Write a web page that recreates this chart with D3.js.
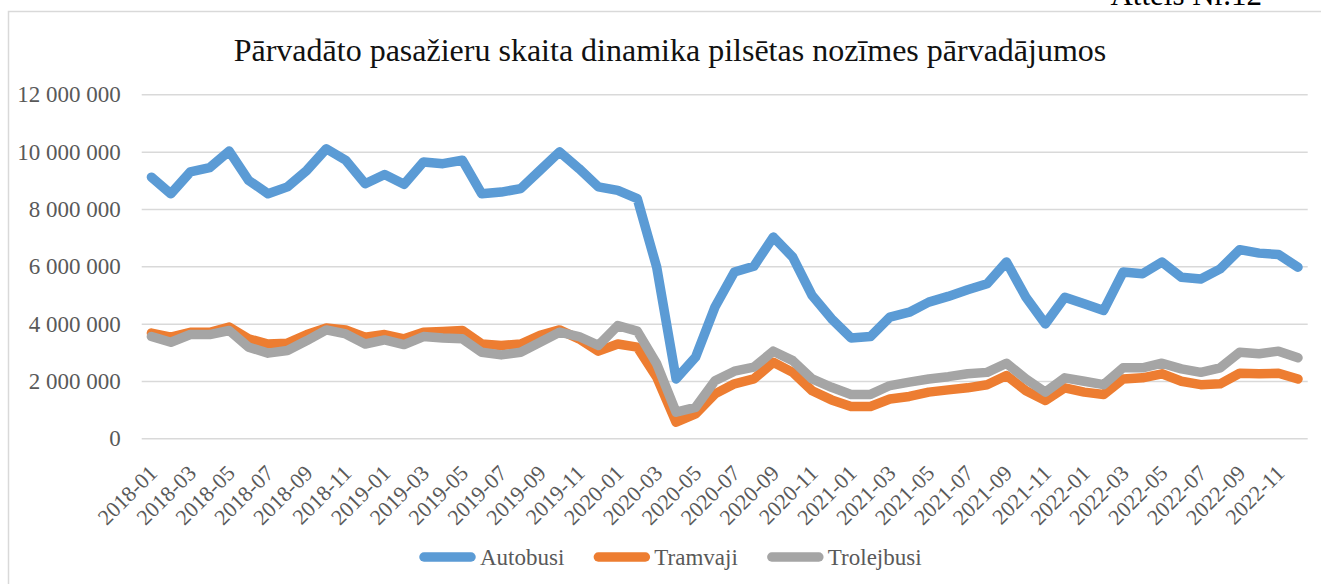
<!DOCTYPE html>
<html>
<head>
<meta charset="utf-8">
<script src="https://cdn.jsdelivr.net/npm/d3@7"></script>
<style>
  body { margin: 0; background: #fff; }
  svg { display: block; }
  svg text { font-family: "Liberation Serif", "Times New Roman", serif; }
</style>
</head>
<body>
<svg width="1321" height="584"></svg>
<script>
// Mēneši 2018-01 ... 2022-12
const months = [];
for (let yr = 2018; yr <= 2022; yr++) {
  for (let m = 1; m <= 12; m++) months.push(`${yr}-${String(m).padStart(2, "0")}`);
}

// Pasažieri (milj.), nolasīti no attēla
const autobusi = [9.11, 8.53, 9.29, 9.44, 10.02, 9.00, 8.53, 8.77, 9.35, 10.10,
  9.70, 8.88, 9.20, 8.86, 9.64, 9.58, 9.70, 8.53, 8.59, 8.71,
  9.35, 9.99, 9.41, 8.77, 8.65, 8.36, 5.97, 2.07, 2.83, 4.58,
  5.80, 6.00, 7.02, 6.32, 4.98, 4.17, 3.50, 3.55, 4.23, 4.40,
  4.75, 4.95, 5.18, 5.39, 6.15, 4.92, 3.99, 4.92, 4.69, 4.46,
  5.80, 5.74, 6.15, 5.62, 5.56, 5.91, 6.58, 6.46, 6.41, 5.97];
const tramvaji = [3.67, 3.53, 3.70, 3.70, 3.88, 3.47, 3.29, 3.32, 3.62, 3.85,
  3.78, 3.53, 3.62, 3.47, 3.70, 3.73, 3.76, 3.29, 3.24, 3.29,
  3.59, 3.78, 3.47, 3.04, 3.29, 3.18, 2.13, 0.56, 0.85, 1.55,
  1.90, 2.07, 2.65, 2.30, 1.66, 1.34, 1.11, 1.11, 1.37, 1.46,
  1.61, 1.69, 1.76, 1.87, 2.19, 1.66, 1.32, 1.76, 1.61, 1.53,
  2.07, 2.11, 2.25, 1.99, 1.87, 1.90, 2.27, 2.25, 2.27, 2.07];
const trolejbusi = [3.55, 3.35, 3.62, 3.62, 3.76, 3.18, 2.97, 3.06, 3.41, 3.78,
  3.64, 3.29, 3.43, 3.27, 3.55, 3.50, 3.47, 3.00, 2.91, 3.00,
  3.35, 3.70, 3.55, 3.24, 3.93, 3.74, 2.60, 0.91, 1.08, 2.01,
  2.34, 2.48, 3.04, 2.71, 2.07, 1.78, 1.53, 1.53, 1.84, 1.96,
  2.07, 2.15, 2.25, 2.30, 2.62, 2.07, 1.61, 2.11, 1.99, 1.87,
  2.46, 2.46, 2.62, 2.42, 2.30, 2.46, 3.00, 2.95, 3.04, 2.81];

const seriesNames = ["Autobusi", "Tramvaji", "Trolejbusi"];
const seriesColors = ["#5b9bd5", "#ed7d31", "#a5a5a5"];
const yTicks = [0, 2e6, 4e6, 6e6, 8e6, 10e6, 12e6];

const series = [autobusi, tramvaji, trolejbusi].map((vals, k) => ({
  name: seriesNames[k],
  color: seriesColors[k],
  values: vals.map((v, i) => ({ month: months[i], value: v * 1e6 }))
}));

const svg = d3.select("svg");
const plotLeft = 141.7, plotRight = 1307.7, plotTop = 94.3, plotBottom = 438.3;

const x = d3.scaleBand().domain(months).range([plotLeft, plotRight]);
const y = d3.scaleLinear().domain([0, 12e6]).range([plotBottom, plotTop]);
const cx = m => x(m) + x.bandwidth() / 2;
const fmt = v => d3.format(",")(v).replace(/,/g, " ");
const serif = '"Liberation Serif", "Times New Roman", serif';

// rāmis
svg.append("rect")
  .attr("x", 8.5).attr("y", 11.5).attr("width", 1400).attr("height", 700)
  .attr("fill", "none").attr("stroke", "#d9d9d9").attr("stroke-width", 1.5);

svg.append("text")
  .attr("x", 1262).attr("y", 5).attr("text-anchor", "end")
  .attr("font-size", 31).attr("fill", "#000")
  .text("Attēls Nr.12");

// virsraksts
svg.append("text")
  .attr("x", 670).attr("y", 61).attr("text-anchor", "middle")
  .attr("font-size", 32).attr("fill", "#111")
  .text("Pārvadāto pasažieru skaita dinamika pilsētas nozīmes pārvadājumos");

// režģis + Y ass
svg.append("g")
  .attr("transform", `translate(${plotLeft},0)`)
  .call(d3.axisLeft(y).tickValues(yTicks).tickSize(-(plotRight - plotLeft)).tickPadding(21).tickFormat(fmt))
  .call(g => g.select(".domain").remove())
  .call(g => g.selectAll(".tick line").attr("stroke", "#d9d9d9").attr("stroke-width", 1.5))
  .call(g => g.selectAll(".tick text")
    .style("font-family", serif)
    .attr("font-size", 23).attr("fill", "#595959"));

// X ass
svg.append("g")
  .attr("transform", `translate(0,${plotBottom})`)
  .call(d3.axisBottom(x).tickValues(months.filter((m, i) => i % 2 === 0)).tickSize(0).tickFormat(d => d))
  .call(g => g.select(".domain").remove())
  .call(g => g.selectAll(".tick text")
    .style("font-family", serif)
    .attr("font-size", 22).attr("fill", "#595959")
    .attr("text-anchor", "end")
    .attr("dy", 0)
    .attr("transform", "translate(5,34) rotate(-45)"));

// līnijas
const line = d3.line().x(d => cx(d.month)).y(d => y(d.value));
svg.append("g").selectAll("path").data(series).join("path")
  .attr("d", d => line(d.values))
  .attr("fill", "none")
  .attr("stroke", d => d.color)
  .attr("stroke-width", 9.5)
  .attr("stroke-linejoin", "round")
  .attr("stroke-linecap", "round");

// leģenda
const legend = svg.append("g").attr("transform", "translate(0,557)");
let lx = 420;
series.forEach(s => {
  legend.append("line")
    .attr("x1", lx + 4).attr("x2", lx + 51).attr("y1", 0).attr("y2", 0)
    .attr("stroke", s.color).attr("stroke-width", 9.5).attr("stroke-linecap", "round");
  const t = legend.append("text")
    .attr("x", lx + 60).attr("y", 8).attr("font-size", 23).attr("fill", "#595959")
    .style("font-family", serif)
    .text(s.name);
  lx += 60 + t.node().getComputedTextLength() + 30;
});
</script>
</body>
</html>
